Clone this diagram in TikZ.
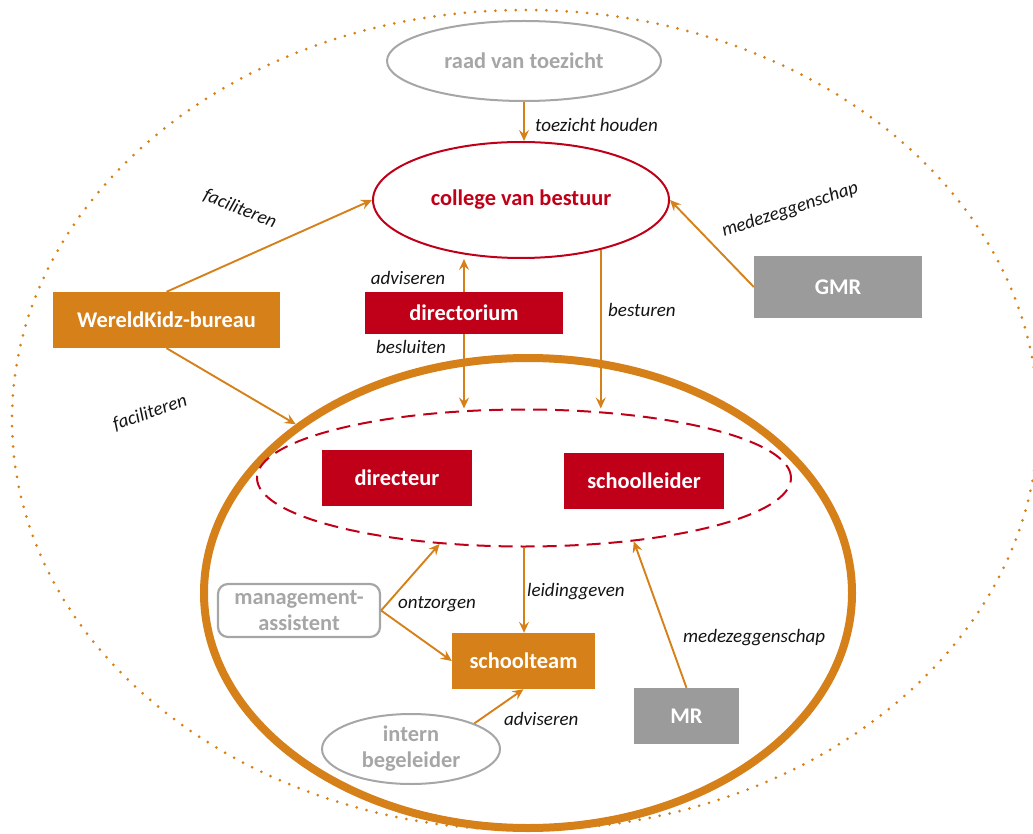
\documentclass[tikz,border=0pt]{standalone}
\usepackage{fontspec}
\setmainfont{Carlito}
\usetikzlibrary{shapes.geometric,arrows.meta}
\definecolor{wkorange}{HTML}{D6801A}
\definecolor{wkred}{HTML}{C00018}
\definecolor{wkgray}{HTML}{9B9B9B}
\definecolor{wklight}{HTML}{A6A6A6}
\definecolor{labelc}{HTML}{141414}
\begin{document}
\begin{tikzpicture}[x=1pt,y=-1pt,
  conn/.style={draw=wkorange,line width=1.9pt,-{Stealth[length=11pt,width=10pt,inset=4pt]}},
  lbl/.style={font=\fontsize{19}{22}\selectfont\itshape,text=labelc,inner sep=0pt},
  nodetxt/.style={font=\fontsize{22.4}{26}\selectfont\bfseries,inner sep=0pt,align=center},
  redbox/.style={nodetxt,rectangle,fill=wkred,text=white},
  orangebox/.style={nodetxt,rectangle,fill=wkorange,text=white},
  graybox/.style={nodetxt,rectangle,fill=wkgray,text=white},
  grayell/.style={nodetxt,ellipse,draw=wklight,line width=2pt,text=wklight}
]
\useasboundingbox (0,0) rectangle (1033,834);
\begin{scope}
  \clip (0,0) rectangle (1033,834);
  \draw[wkorange,line width=3pt,dash pattern=on 0pt off 10.2pt,line cap=round]
    (525,420) ellipse [x radius=513,y radius=410];
\end{scope}

% big school ellipse and dashed management ellipse
\node[ellipse,draw=wkorange,line width=8pt,minimum width=648,minimum height=470,inner sep=0pt] (school) at (528,593) {};
\node[ellipse,draw=wkred,line width=2pt,dash pattern=on 14pt off 8pt,minimum width=534,minimum height=137,inner sep=0pt] (se) at (524,478) {};

% nodes
\node[grayell,minimum width=274,minimum height=80] (rvt) at (524,61) {raad van toezicht};
\node[nodetxt,ellipse,draw=wkred,line width=2pt,text=wkred,minimum width=296,minimum height=116] (cvb) at (521,200) {college van bestuur};
\node[orangebox,minimum width=227,minimum height=56] (wk) at (166.5,320) {WereldKidz-bureau};
\node[redbox,minimum width=198,minimum height=42] (dir) at (464,313) {directorium};
\node[graybox,minimum width=168,minimum height=62] (gmr) at (838,287) {GMR};
\node[redbox,minimum width=150,minimum height=56] (dtr) at (397,478) {directeur};
\node[redbox,minimum width=160,minimum height=56] (sl) at (644,481) {schoolleider};
\node[nodetxt,rectangle,rounded corners=10pt,draw=wklight,line width=2.2pt,text=wklight,minimum width=162,minimum height=53] (ma) at (299,610.5) {management-\\assistent};
\node[orangebox,minimum width=143,minimum height=56] (st) at (523.5,661) {schoolteam};
\node[graybox,minimum width=105,minimum height=56] (mr) at (686.5,716) {MR};
\node[grayell,minimum width=178,minimum height=70] (ib) at (411,749) {intern\\begeleider};

% connectors
\draw[conn] (rvt.south) -- (rvt.south |- cvb.north);
\draw[conn] (wk.north) -- (cvb.west);
\draw[conn] (wk.south) -- (school.144);
\draw[conn] (dir.north) -- (dir.north |- cvb.south);
\draw[conn] (dir.south) -- (dir.south |- se.north);
\draw[conn] (cvb.-32.7) -- (cvb.-32.7 |- se.north);
\draw[conn] (gmr.west) -- (cvb.east);
\draw[conn] (ma.east) -- (se.-142);
\draw[conn] (ma.east) -- (st.west);
\draw[conn] (se.south) -- (se.south |- st.north);
\draw[conn] (mr.north) -- (se.-30);
\draw[conn] (ib.22) -- (st.south);

% labels
\node[lbl,anchor=west] (l1) at (535,125) {toezicht houden};
\node[lbl,rotate=-22] (l2) at (240,209) {faciliteren};
\node[lbl,rotate=19] (l3) at (150,413) {faciliteren};
\node[lbl] (l4) at (408,278) {adviseren};
\node[lbl] (l5) at (411,347) {besluiten};
\node[lbl,anchor=west] (l6) at (608,310) {besturen};
\node[lbl,rotate=18] (l7) at (790,210) {medezeggenschap};
\node[lbl,anchor=west] (l8) at (398,604) {ontzorgen};
\node[lbl,anchor=west] (l9) at (527,592) {leidinggeven};
\node[lbl,anchor=west] (l10) at (683,638) {medezeggenschap};
\node[lbl,anchor=west] (l11) at (504,719) {adviseren};
\end{tikzpicture}
\end{document}
